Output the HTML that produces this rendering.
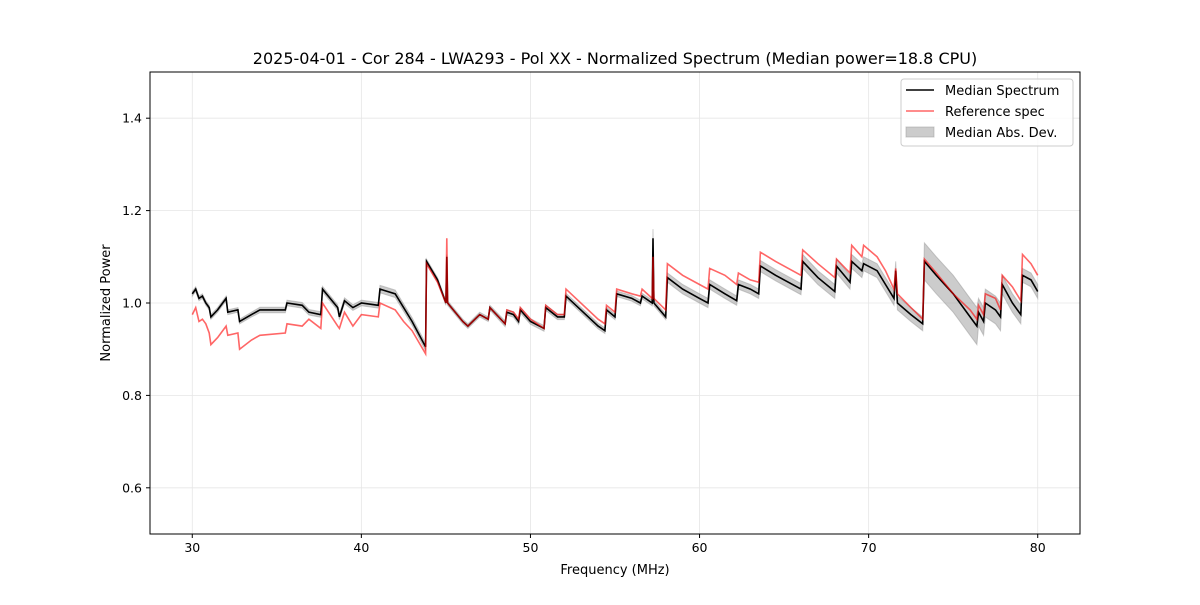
<!DOCTYPE html>
<html><head><meta charset="utf-8"><style>
body{margin:0;background:#fff;font-family:"Liberation Sans","DejaVu Sans",sans-serif}
svg text{font-family:"DejaVu Sans","Liberation Sans",sans-serif}
</style></head><body>
<svg id="c" width="1200" height="600" xmlns="http://www.w3.org/2000/svg"></svg>
<script>
const freqs=[30.0,30.2,30.4,30.6,30.8,31.0,31.1,31.5,32.0,32.1,32.7,32.8,33.5,34.0,35.5,35.6,36.5,36.9,37.6,37.7,38.6,38.7,39.0,39.5,40.0,41.0,41.1,42.0,42.5,43.0,43.8,43.85,44.5,45.0,45.05,45.1,46.0,46.3,47.0,47.5,47.6,48.5,48.6,49.0,49.3,49.4,50.0,50.8,50.9,51.6,52.0,52.1,54.0,54.4,54.5,55.0,55.1,56.0,56.5,56.6,57.2,57.25,57.3,58.0,58.1,59.0,60.0,60.5,60.6,61.5,62.2,62.3,63.0,63.5,63.6,64.5,66.0,66.1,67.0,68.0,68.1,68.9,69.0,69.6,69.7,70.5,71.0,71.5,71.6,71.7,72.5,73.2,73.3,74.0,75.0,76.0,76.4,76.5,76.8,76.9,77.5,77.8,77.9,78.5,79.0,79.1,79.6,80.0];
const median=[1.02,1.03,1.01,1.015,1.0,0.99,0.97,0.985,1.01,0.98,0.985,0.96,0.975,0.985,0.985,1.0,0.995,0.98,0.975,1.03,0.99,0.97,1.005,0.99,1.0,0.995,1.03,1.02,0.99,0.96,0.905,1.09,1.05,1.0,1.10,1.0,0.96,0.95,0.975,0.965,0.99,0.955,0.98,0.975,0.96,0.985,0.96,0.945,0.99,0.97,0.97,1.015,0.95,0.94,0.985,0.97,1.02,1.01,1.0,1.015,1.0,1.14,1.0,0.97,1.055,1.03,1.01,1.0,1.04,1.02,1.005,1.04,1.03,1.02,1.08,1.06,1.03,1.09,1.055,1.025,1.08,1.045,1.09,1.07,1.085,1.07,1.04,1.01,1.07,1.0,0.975,0.955,1.09,1.06,1.02,0.97,0.95,0.98,0.96,1.0,0.985,0.97,1.04,1.0,0.975,1.06,1.05,1.025];
const reference=[0.975,0.99,0.96,0.965,0.955,0.935,0.91,0.925,0.95,0.93,0.935,0.90,0.92,0.93,0.935,0.955,0.95,0.965,0.945,1.0,0.95,0.945,0.98,0.95,0.975,0.97,1.0,0.985,0.96,0.94,0.89,1.085,1.045,1.0,1.14,1.0,0.96,0.95,0.975,0.965,0.99,0.955,0.985,0.98,0.965,0.99,0.965,0.945,0.995,0.975,0.975,1.03,0.965,0.955,0.995,0.98,1.03,1.02,1.015,1.03,1.01,1.10,1.01,0.985,1.085,1.06,1.04,1.03,1.075,1.06,1.04,1.065,1.05,1.045,1.11,1.09,1.06,1.115,1.085,1.055,1.095,1.065,1.125,1.1,1.125,1.1,1.07,1.03,1.075,1.02,0.99,0.965,1.095,1.065,1.02,0.985,0.965,0.995,0.975,1.02,1.01,0.985,1.06,1.035,1.005,1.105,1.085,1.06];
const mad=[.005,.005,.005,.005,.005,.005,.005,.005,.005,.005,.005,.005,.005,.006,.006,.006,.006,.006,.006,.006,.006,.006,.006,.006,.006,.006,.008,.008,.008,.008,.008,.005,.005,.005,.005,.005,.005,.005,.005,.005,.005,.006,.006,.006,.006,.006,.006,.006,.006,.006,.006,.006,.006,.006,.006,.006,.006,.006,.006,.006,.006,.02,.006,.006,.01,.01,.01,.01,.01,.01,.01,.01,.01,.01,.012,.012,.012,.015,.015,.015,.015,.015,.015,.015,.015,.015,.015,.015,.02,.015,.015,.015,.04,.04,.04,.04,.04,.03,.03,.03,.03,.03,.02,.02,.02,.015,.015,.015];
const xTicks=[30,40,50,60,70,80];
const yTicks=[0.6,0.8,1.0,1.2,1.4];

const L=150,R=1080,T=72,B=534;
const X=f=>L+(f-27.5)/55*(R-L);
const Y=v=>B-(v-0.5)/1.0*(B-T);
const svg=document.getElementById('c');
const NS='http://www.w3.org/2000/svg';
function mk(tag,attrs,txt){const e=document.createElementNS(NS,tag);for(const k in attrs)e.setAttribute(k,attrs[k]);if(txt!==undefined)e.textContent=txt;svg.appendChild(e);return e;}

// grid
xTicks.forEach(t=>{const g=mk('line',{x1:X(t),x2:X(t),y1:T,y2:B,stroke:'#e6e6e6','stroke-width':0.8});

});
yTicks.forEach(t=>{const g=mk('line',{x1:L,x2:R,y1:Y(t),y2:Y(t),stroke:'#e6e6e6','stroke-width':0.8});

});

// MAD band
let up=freqs.map((f,i)=>X(f).toFixed(1)+','+Y(median[i]+mad[i]).toFixed(1));
let dn=freqs.map((f,i)=>X(f).toFixed(1)+','+Y(median[i]-mad[i]).toFixed(1)).reverse();
const band=mk('polygon',{points:up.concat(dn).join(' '),fill:'#999','fill-opacity':0.5,stroke:'#999','stroke-opacity':0.5});



const ml=mk('polyline',{points:freqs.map((f,i)=>X(f).toFixed(1)+','+Y(median[i]).toFixed(1)).join(' '),fill:'none',stroke:'#000','stroke-width':1.6});


const rl=mk('polyline',{points:freqs.map((f,i)=>X(f).toFixed(1)+','+Y(reference[i]).toFixed(1)).join(' '),fill:'none',stroke:'#ff0000','stroke-opacity':0.6,'stroke-width':1.6});



// frame
const fr=mk('rect',{x:L,y:T,width:R-L,height:B-T,fill:'none',stroke:'#000','stroke-width':1});



xTicks.forEach(t=>{mk('line',{x1:X(t),x2:X(t),y1:B,y2:B+4,stroke:'#000'});
const tx=mk('text',{x:X(t),y:B+18,'font-size':12.5,'text-anchor':'middle'},String(t));

});
yTicks.forEach(t=>{mk('line',{x1:L-4,x2:L,y1:Y(t),y2:Y(t),stroke:'#000'});
const tx=mk('text',{x:L-8,y:Y(t)+4.5,'font-size':12.5,'text-anchor':'end'},t.toFixed(1));

});

let e;
e=mk('text',{x:615,y:64,'font-size':16,'text-anchor':'middle'},'2025-04-01 - Cor 284 - LWA293 - Pol XX - Normalized Spectrum (Median power=18.8 CPU)');


e=mk('text',{x:615,y:574,'font-size':13,'text-anchor':'middle'},'Frequency (MHz)');


e=mk('text',{x:110,y:303,'font-size':13,'text-anchor':'middle',transform:'rotate(-90 110 303)'},'Normalized Power');



// legend
e=mk('rect',{x:901,y:79,width:172,height:67,rx:3,fill:'#fff','fill-opacity':0.8,stroke:'#ccc'});


mk('line',{x1:906,x2:934,y1:90,y2:90,stroke:'#000','stroke-width':1.6});
e=mk('text',{x:945,y:95,'font-size':13},'Median Spectrum');


mk('line',{x1:906,x2:934,y1:111,y2:111,stroke:'#ff0000','stroke-opacity':0.6,'stroke-width':1.6});
e=mk('text',{x:945,y:116,'font-size':13},'Reference spec');


mk('rect',{x:906,y:127,width:28,height:10,fill:'#999','fill-opacity':0.5,stroke:'#999','stroke-opacity':0.5});
e=mk('text',{x:945,y:137,'font-size':13},'Median Abs. Dev.');


</script>
</body></html>
